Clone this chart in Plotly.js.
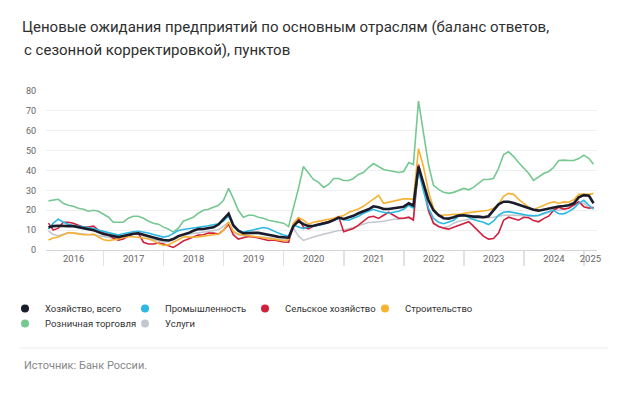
<!DOCTYPE html>
<html><head><meta charset="utf-8">
<script src="https://cdn.plot.ly/plotly-3.0.1.min.js"></script>
<style>html,body{margin:0;padding:0;background:#fff;}#chart{width:620px;height:395px;}</style>
</head><body><div id="chart"></div>
<script>
// ---- data ----
const startYear = 2016;          // first month: January 2016 (monthly, end-of-month)
const monthCount = 110;          // Jan 2016 .. Feb 2025
const yearLabels = ['2016','2017','2018','2019','2020','2021','2022','2023','2024','2025'];

const seriesNames = ['Хозяйство, всего','Промышленность','Сельское хозяйство','Строительство','Розничная торговля','Услуги'];

const total = [
 11.4,12,12.2,12,12,12,11.5,11,10.5,10,9,8,
 7.5,7,6.5,7,7.8,8.2,8.4,7.8,7,6.3,5.6,5,
 4.8,5.5,7,7.8,8.5,9.7,10.5,10.6,11,11.4,12.8,15.6,
 18.3,12.5,9.7,8.4,8.6,8.6,8.6,8.2,7.8,7.2,6.6,6.4,
 6.2,12,14.5,13,12,12.2,12.8,13.2,14,15,16.3,15.6,
 16.4,17.2,18.5,19.3,20.5,22,21.5,20.6,20.6,21,21.5,21.8,
 23.5,22.3,42,33,25,20,17.5,16,15.8,16.5,17.3,17.5,
 17.1,16.8,16.8,16.5,17,20,23,24.3,24.3,23.7,22.8,22,
 21,20.2,19.8,20.3,21,21.5,21.9,22.1,22.5,23.5,26.5,27.6,
 27.3,23.5];
const industry = [
 10.6,13.5,15.5,14,13,12.2,12,11.6,11.3,10.8,10,9.3,
 8.9,8,7.5,8.2,8.8,9.2,9.4,9,8.6,7.8,7.2,6.5,
 7,8.5,9.8,10.3,10.6,11.2,11.5,11.8,12.2,12.7,13.2,14.5,
 17.3,12,9.7,9,9.6,10.2,10.8,11.3,10.8,9.5,8.5,7.5,
 7,12.5,11.5,10.8,11.7,11.8,12.5,13,14,15,16,15.2,
 15,16,17,18.5,19.5,20.5,19.5,19,18.5,19,19.5,20.5,
 22.5,21,40,30,21,16,14,13.2,14,15,17,17.5,
 16.5,15.3,14.6,14,12.8,14.5,17.5,19,19.3,18.8,18.2,17.8,
 17.4,17.2,17.5,18.5,19.2,20,18.3,18.2,19.3,21,23.5,25,
 22.5,20.5];
const agriculture = [
 13.5,10,11,14,14,13.5,12.5,11.5,11.5,12,10,8.9,
 7.5,6,5,5.5,7,8,8.4,3.9,3,3,3.5,3,
 2.2,1.3,2.8,4.5,5.5,6.5,7.5,7.7,8.5,8.5,8,10,
 13,7.7,5.5,6.2,6.8,6.6,6,5.5,4.8,5,4.4,4,
 3.9,13,16,11.5,10.6,12,13,13.5,14.3,15.5,16.8,9.2,
 10,10.8,12.5,14.5,16.5,17,15.9,17.5,19,17.5,16,16,
 16.5,15,43,33,20,13.4,11.8,11,10.5,11.5,12.5,13.4,
 14.2,12,9.5,7,5.5,5.8,8.5,15,16.5,15.8,15,16.5,
 16.2,14.8,14.2,15.8,17,20,21.5,20.6,21,22.6,24.3,21.8,
 21,21.5];
const construction = [
 5,6,6.5,7.5,8.8,8.5,8,7.7,7.7,8,6.5,5.2,
 4.7,5,5.5,6.3,6.7,6.7,6.5,6,5.5,4.7,3.2,2.3,
 2.7,3.9,5.3,6.5,6.7,6.4,6.6,7,7.2,7.5,8,10,
 14,9.5,8,7.6,7.2,7,6.7,6.2,5.7,5.3,5,4.7,
 5.3,13.5,16.4,15,13,14,14.4,14.8,15.5,16,16.8,17.3,
 19,19.8,20.6,22,24,25.5,27.5,23.5,24,24.8,25.3,25.7,
 25.7,25.5,51,42,29.5,21,17.2,17.6,17.6,18,17.8,18.5,
 18.8,19,19.3,19.6,20,21,23,27,28.5,28,25.5,23.5,
 21.5,20.3,21.5,22.5,23.5,24.2,23.5,24.2,24,25.3,28,28.2,
 28,28.5];
const retail = [
 24.7,25,25.5,23.5,22.5,22,21,20.5,19.5,20,19.5,18,
 16.5,14,14,14,16,17,17,16,14.5,13.5,13,11.5,
 10.5,9,11,14.5,15.5,16.5,18.5,20,20.5,21.5,22.5,25,
 31,26,20,16.5,17.5,17.5,16.5,16,15,14.5,14,13.5,
 11.8,21,31,42,39,35.5,34,31.5,33,36,36,35,
 35,36,38,39,41.5,43.5,42,40.5,40,39.5,39,39.5,
 44,43,75,59,43,32.5,30.5,29,28.5,29,30,31,
 30.3,31.5,33.5,35.5,35.5,36,41,48,49.4,47,44,41.5,
 38.5,35,36.8,38.5,39.5,41.5,45,45.2,45,45,46,47.7,
 46,43.2];
const services = [
 9.5,7.8,7.2,8,8.6,8.7,8.4,7.8,7.8,7.6,7.2,6.6,
 6.2,6,6.3,7.2,7.8,8,7.8,7,6,5.3,4.6,4,
 4.2,5.2,6.5,7.5,8,8.2,8.6,9,9.3,9.7,10.2,12,
 14,9,7.5,7.2,7,7,6.6,6.4,6.3,6,5.2,4.8,
 4.7,11,7,4.8,5.5,6.5,7.3,8,8.8,9.4,9.8,10,
 10.6,11.3,12.2,13,13.8,14,14.2,14.5,15,15.5,15.5,15.8,
 16.2,16,40,30,19,14,12,11.3,11.8,13.5,14.5,15,
 15.5,15.8,16,16,16.2,16.5,17,17.5,17.5,17.6,17.4,17.2,
 17,17,17.2,18,19,20.5,20,20.5,21.5,22.5,23.5,23.5,
 21.5,21];

const titleLines = ['Ценовые ожидания предприятий по основным отраслям (баланс ответов,',
                    'с сезонной корректировкой), пунктов'];
const sourceText = 'Источник: Банк России.';

// ---- helpers ----
function iso(d){ return d.toISOString().slice(0,10); }
const months = Array.from({length: monthCount}, (_, i) => iso(new Date(Date.UTC(startYear, i + 1, 0))));
const xRange = ['2016-01-16', '2025-03-21'];
const yearStarts = yearLabels.map(y => y + '-01-01');
const yearMids = yearLabels.map(y => {
  const a = Date.UTC(+y, 0, 1);
  const b = Math.min(Date.UTC(+y + 1, 0, 1), Date.parse(xRange[1]));
  return iso(new Date((a + b) / 2));
});

const series = [
  {name: seriesNames[4], y: retail,       color: '#76c891', width: 1.6},
  {name: seriesNames[5], y: services,     color: '#c4c8ce', width: 1.6},
  {name: seriesNames[2], y: agriculture,  color: '#d0203d', width: 1.6},
  {name: seriesNames[1], y: industry,     color: '#2bb8e3', width: 1.6},
  {name: seriesNames[3], y: construction, color: '#f6b232', width: 1.6},
  {name: seriesNames[0], y: total,        color: '#1b1c2b', width: 2.6},
];
const colorOf = {};
series.forEach(s => colorOf[s.name] = s.color);

const traces = series.map(s => ({
  type: 'scatter', mode: 'lines', x: months, y: s.y, name: s.name,
  legendgroup: s.name, showlegend: false,
  line: {color: s.color, width: s.width, shape: 'linear'},
  hoverinfo: 'x+y+name'
}));
// legend entries (dot symbols), in the reference's order: 4 in the first row, 2 in the second
seriesNames.forEach((n, i) => traces.push({
  type: 'scatter', mode: 'markers', x: [null], y: [null], name: n,
  legendgroup: n, showlegend: true, legend: i < 4 ? 'legend' : 'legend2',
  marker: {color: colorOf[n], size: 8}, hoverinfo: 'skip'
}));

const W = 620, H = 395;
const M = {l: 46, r: 23, t: 91, b: 145};
const pw = W - M.l - M.r, ph = H - M.t - M.b;
const px = x => (x - M.l) / pw;           // container px -> paper x
const py = y => (H - M.b - y) / ph;       // container px -> paper y

const legendBase = {
  orientation: 'h', xref: 'container', yref: 'container',
  x: 5 / W, xanchor: 'left', yanchor: 'top',
  entrywidth: 75, entrywidthmode: 'pixels', itemwidth: 30,
  font: {size: 9.5, color: '#333'}, bgcolor: 'rgba(0,0,0,0)', traceorder: 'normal'
};

const layout = {
  width: W, height: H,
  margin: {l: M.l, r: M.r, t: M.t, b: M.b, pad: 0},
  paper_bgcolor: '#ffffff', plot_bgcolor: '#ffffff',
  font: {family: 'Roboto, "Noto Sans", sans-serif', color: '#333'},
  title: {
    text: titleLines[0],
    xref: 'container', yref: 'container', x: 22 / W, xanchor: 'left',
    y: 1 - 27 / H, yanchor: 'middle',
    font: {size: 15, color: '#2f2f2f', family: 'Roboto, sans-serif'}
  },
  showlegend: true,
  legend:  Object.assign({}, legendBase, {y: 1 - 294 / H}),
  legend2: Object.assign({}, legendBase, {y: 1 - 309 / H}),
  xaxis: {
    type: 'date', range: xRange, fixedrange: true,
    showgrid: false, zeroline: false,
    showline: true, linecolor: '#d6d6d6', linewidth: 1,
    tickmode: 'array', tickvals: yearMids, ticktext: yearLabels, ticks: '',
    tickfont: {size: 9.5, color: '#666'},
    minor: {tickmode: 'array', tickvals: yearStarts, ticks: 'outside', ticklen: 15,
            tickwidth: 1.5, tickcolor: '#e2e2e2', showgrid: false}
  },
  yaxis: {
    range: [0, 80], fixedrange: true,
    tickmode: 'array', tickvals: [0,10,20,30,40,50,60,70,80],
    showgrid: true, gridcolor: '#efefef', gridwidth: 1, zeroline: false,
    ticks: '', tickfont: {size: 9, color: '#666'}, ticklabelstandoff: 9
  },
  shapes: [{
    type: 'line', xref: 'paper', yref: 'paper',
    x0: px(20), x1: px(608), y0: py(348), y1: py(348),
    line: {color: '#ececec', width: 1}
  }],
  annotations: [{
    text: titleLines[1], xref: 'paper', yref: 'paper',
    x: px(22), y: py(50), xanchor: 'left', yanchor: 'middle', showarrow: false,
    font: {size: 15, color: '#2f2f2f', family: 'Roboto, sans-serif'}
  }, {
    text: sourceText, xref: 'paper', yref: 'paper',
    x: px(22), y: py(365), xanchor: 'left', yanchor: 'middle', showarrow: false,
    font: {size: 11, color: '#888'}
  }]
};

Plotly.newPlot('chart', traces, layout, {staticPlot: true, displayModeBar: false});
</script></body></html>
